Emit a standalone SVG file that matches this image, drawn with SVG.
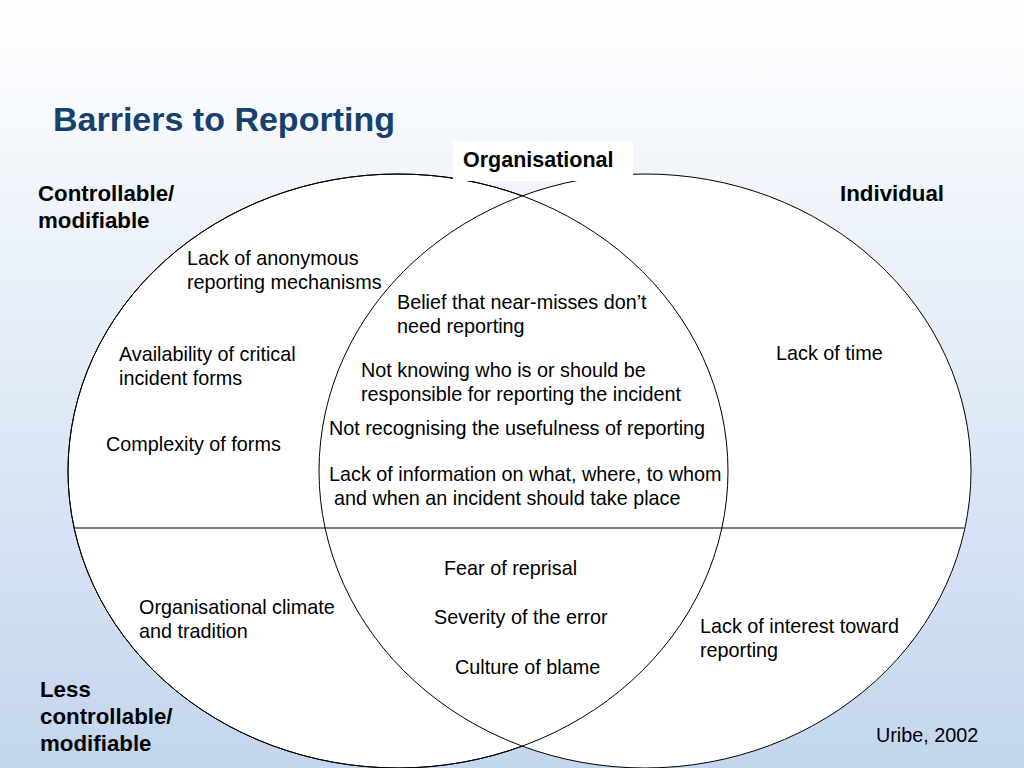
<svg xmlns="http://www.w3.org/2000/svg" width="1024" height="768" viewBox="0 0 1024 768">
<defs>
<linearGradient id="bg" x1="0" y1="0" x2="0" y2="1">
<stop offset="0" stop-color="#ffffff"/>
<stop offset="1" stop-color="#c3d6ee"/>
</linearGradient>
<style>
text{font-family:"Liberation Sans",Arial,sans-serif;font-size:19.8px;fill:#000}
.b{font-weight:bold;font-size:22.3px}
.t{font-weight:bold;font-size:34px;fill:#17406d}
.e{fill:#fff;stroke:#000;stroke-width:1}
</style>
</defs>
<rect width="1024" height="768" fill="url(#bg)"/>
<text class="t" x="53" y="131">Barriers to Reporting</text>
<g id="left"><ellipse class="e" cx="398" cy="471" rx="330" ry="297"/></g>
<g id="right"><ellipse class="e" cx="645" cy="471" rx="326" ry="297"/></g>
<g id="overlap"><ellipse cx="398" cy="471" rx="330" ry="297" fill="none" stroke="#000"/></g>
<g id="connectors"><line x1="74" y1="528" x2="964" y2="528" stroke="#000"/></g>
<g id="org"><rect x="453" y="141" width="180" height="40" fill="#fff"/><text class="b" x="463" y="167" style="font-size:21.5px">Organisational</text></g>
<g id="labels">
<text class="b" x="38" y="201">Controllable/</text>
<text class="b" x="38" y="228">modifiable</text>
<text class="b" x="840" y="201">Individual</text>
<text class="b" x="40" y="697">Less</text>
<text class="b" x="40" y="724">controllable/</text>
<text class="b" x="40" y="751">modifiable</text>
<text x="187" y="265">Lack of anonymous</text>
<text x="187" y="289">reporting mechanisms</text>
<text x="397" y="309">Belief that near-misses don’t</text>
<text x="397" y="333">need reporting</text>
<text x="119" y="361">Availability of critical</text>
<text x="119" y="385">incident forms</text>
<text x="361" y="377">Not knowing who is or should be</text>
<text x="361" y="401">responsible for reporting the incident</text>
<text x="776" y="360">Lack of time</text>
<text x="329" y="435">Not recognising the usefulness of reporting</text>
<text x="106" y="451">Complexity of forms</text>
<text x="329" y="481">Lack of information on what, where, to whom</text>
<text x="334" y="505">and when an incident should take place</text>
<text x="444" y="575">Fear of reprisal</text>
<text x="139" y="614">Organisational climate</text>
<text x="139" y="638">and tradition</text>
<text x="434" y="624">Severity of the error</text>
<text x="700" y="633">Lack of interest toward</text>
<text x="700" y="657">reporting</text>
<text x="455" y="674">Culture of blame</text>
<text x="876" y="742">Uribe, 2002</text>
</g>
</svg>
